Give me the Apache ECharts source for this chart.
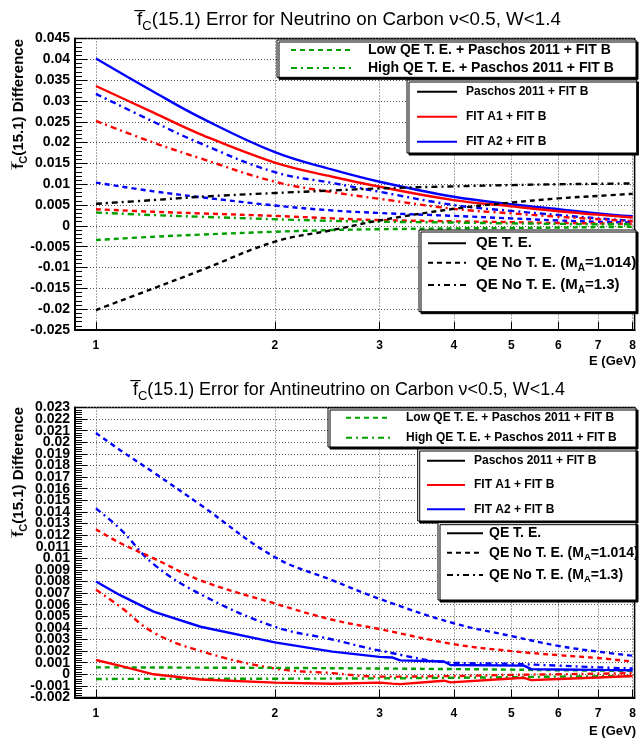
<!DOCTYPE html>
<html>
<head>
<meta charset="utf-8">
<script src="https://cdn.jsdelivr.net/npm/echarts@6/dist/echarts.min.js"></script>
<style>
html, body { margin: 0; padding: 0; background: #fff; }
#chart { width: 639px; height: 739px; }
</style>
</head>
<body>
<div id="chart"></div>
<script>
// ---- axis ticks ----
const xTicks = [1, 2, 3, 4, 5, 6, 7, 8];
const anuYTicks = [-0.002, -0.001, 0, 0.001, 0.002, 0.003, 0.004, 0.005, 0.006, 0.007, 0.008, 0.009,
  0.010, 0.011, 0.012, 0.013, 0.014, 0.015, 0.016, 0.017, 0.018, 0.019, 0.020, 0.021, 0.022, 0.023];

// ---- neutrino on carbon (top panel) ----
const eNu = [1, 1.25, 1.5, 2, 2.5, 3, 4, 5, 6, 7, 8];
const nuA2QE    = [0.0402, 0.0322, 0.0260, 0.0177, 0.0135, 0.0106, 0.0070, 0.0052, 0.0040, 0.0030, 0.0023];
const nuA1QE    = [0.0336, 0.0272, 0.0220, 0.0152, 0.0118, 0.0094, 0.0062, 0.0047, 0.0035, 0.0027, 0.0020];
const nuA2MA13  = [0.0317, 0.0250, 0.0198, 0.0129, 0.0103, 0.0082, 0.0050, 0.0036, 0.0026, 0.0018, 0.0012];
const nuA1MA13  = [0.0252, 0.0200, 0.0162, 0.0106, 0.0081, 0.0065, 0.0041, 0.0030, 0.0022, 0.0016, 0.0011];
const nuA2NoTE  = [0.0104, 0.0083, 0.0069, 0.0049, 0.0037, 0.0031, 0.0024, 0.0018, 0.0013, 0.0010, 0.0008];
const nuPaMA13  = [0.0053, 0.0062, 0.0070, 0.0079, 0.0085, 0.0090, 0.0095, 0.0098, 0.0100, 0.0101, 0.0102];
const nuA1NoTE  = [0.0040, 0.0034, 0.0030, 0.0024, 0.0018, 0.0014, 0.0011, 0.0009, 0.0007, 0.0006, 0.0005];
const nuHighQE  = [0.0032, 0.0026, 0.0022, 0.0016, 0.0012, 0.0010, 0.0008, 0.0006, 0.0005, 0.0004, 0.0004];
const nuLowQE   = [-0.0034, -0.0026, -0.0021, -0.0014, -0.0010, -0.0008, -0.0006, -0.0005, -0.0004, -0.0003, -0.0002];
const nuPaNoTE  = [-0.0202, -0.0150, -0.0107, -0.0038, -0.0010, 0.0013, 0.0041, 0.0056, 0.0066, 0.0072, 0.0077];

// ---- antineutrino on carbon (bottom panel) ----
const eAnu = [1, 1.1, 1.25, 1.5, 2, 2.5, 3, 4, 5, 6, 7, 8];
const anuA2NoTE = [0.0208, 0.0193, 0.0174, 0.0146, 0.0101, 0.0081, 0.0065, 0.0044, 0.0033, 0.00245, 0.00195, 0.0016];
const anuA2MA13 = [0.0143, 0.0125, 0.0095, 0.0069, 0.0041, 0.0030, 0.00205, 0.0010, 0.0009, 0.00075, 0.0006, 0.0005];
const anuA1NoTE = [0.0125, 0.0113, 0.0100, 0.0081, 0.0061, 0.0047, 0.0039, 0.0026, 0.0020, 0.00165, 0.0014, 0.0011];
const anuA1MA13 = [0.0073, 0.0058, 0.0036, 0.0020, 0.0005, 0.0001, -0.0002, -0.00015, -0.00005, 0.0, 0.00005, 0.0001];
const eAnuQE = [1, 1.1, 1.25, 1.5, 2, 2.5, 3, 3.15, 3.25, 3.85, 3.95, 5.25, 5.4, 6, 7, 8];
const anuA2QE = [0.0080, 0.0068, 0.0054, 0.0041, 0.00275, 0.00195, 0.0015, 0.00145, 0.0012, 0.0011, 0.0008, 0.00075, 0.00045, 0.00042, 0.00038, 0.00035];
const anuA1QE = [0.00123, 0.00072, 0.0, -0.00045, -0.00072, -0.00082, -0.00072, -0.0008, -0.00085, -0.00055, -0.0007, -0.0003, -0.0005, -0.0004, -0.00028, -0.00015];
const eAnuGreen = [1, 2, 3, 4, 5, 6, 8];
const anuLowQE  = [0.0006, 0.00055, 0.0005, 0.00045, 0.0004, 0.00035, 0.0003];
const anuHighQE = [-0.0004, -0.00038, -0.00035, -0.0003, -0.00025, -0.0002, -0.00015];

// ---- names ----
const lowName  = 'Low QE T. E. + Paschos 2011 + FIT B';
const highName = 'High QE T. E. + Paschos 2011 + FIT B';
const modelNames = ['Paschos 2011 + FIT B', 'FIT A1 + FIT B', 'FIT A2 + FIT B'];
const qeNames = ['QE T. E.', 'QE No T. E. (MA=1.014)', 'QE No T. E. (MA=1.3)'];

const FONT = "'Liberation Sans', Arial, Helvetica, sans-serif";
const RED = '#ff0000', BLUE = '#0000ff', BLACK = '#000000', GREEN = '#00a000';
const SOLID = 'solid', DASH = [5, 4], DASHDOT = [6, 4, 2, 4];

function line(name, xs, ys, color, dash, g, smooth) {
  return {
    type: 'line', name: name, xAxisIndex: g, yAxisIndex: g,
    data: xs.map((x, i) => [x, ys[i]]),
    symbol: 'none', showSymbol: false,
    smooth: smooth,
    lineStyle: { color: color, width: 2.4, type: dash },
    itemStyle: { color: color },
    emphasis: { disabled: true }, silent: true, z: 2
  };
}
function legendOnly(name, color, dash) {
  return {
    type: 'line', name: name, xAxisIndex: 0, yAxisIndex: 0, data: [],
    symbol: 'none', showSymbol: false,
    lineStyle: { color: color, width: 2.4, type: dash },
    itemStyle: { color: color }
  };
}

function xAxisCfg(g) {
  return {
    type: 'log', logBase: 10, gridIndex: g, min: 0.922, max: 8.06,
    axisLine: { onZero: false, lineStyle: { color: '#000', width: 2 } },
    axisTick: { show: true, inside: true, length: 8, customValues: xTicks, lineStyle: { color: '#000', width: 1 } },
    minorTick: { show: false },
    axisLabel: { customValues: xTicks, color: '#000', fontFamily: FONT, fontWeight: 'bold', fontSize: 12, margin: 10 },
    splitLine: { show: true, lineStyle: { color: '#555', width: 1, type: [1, 2] } }
  };
}
const yLabelStyle = {
  color: '#000', fontFamily: FONT, fontWeight: 'bold', fontSize: 14, margin: 5,
  showMinLabel: true, showMaxLabel: true,
  formatter: v => String(+(+v).toFixed(4))
};
function yAxisCfg(g, min, max, step) {
  return {
    type: 'value', gridIndex: g, min: min, max: max, interval: step,
    axisLine: { show: true, onZero: false, lineStyle: { color: '#000', width: 2 } },
    axisTick: { show: true, inside: true, length: 12, lineStyle: { color: '#000', width: 1 } },
    minorTick: { show: true, splitNumber: 5, length: 7, lineStyle: { color: '#000', width: 1 } },
    minorSplitLine: { show: false },
    axisLabel: Object.assign({}, yLabelStyle),
    splitLine: { show: true, lineStyle: { color: '#555', width: 1, type: [1, 2] } }
  };
}
// label-only axis sharing a grid, used so that closely packed labels are all kept
function yLabelAxis(g, min, max, values) {
  return {
    type: 'value', gridIndex: g, min: min, max: max, position: 'left',
    axisLine: { show: false }, axisTick: { show: false }, splitLine: { show: false },
    axisLabel: Object.assign({ customValues: values }, yLabelStyle)
  };
}

// legend label with a subscript A on M
function subFmt(name) {
  const m = name.match(/^(.*\(M)A(=.*)$/);
  return m ? '{n|' + m[1] + '}{s|A}{n|' + m[2] + '}' : '{n|' + name + '}';
}
function legendCfg(names, left, top, iw, ih, gap, fs, padLeft, rich, subSize) {
  const cfg = {
    orient: 'vertical', left: left, top: top, padding: 0,
    itemWidth: iw, itemHeight: ih, itemGap: gap, selectedMode: false,
    data: names, z: 5,
    itemStyle: { opacity: 0 },
    textStyle: { color: '#000', fontFamily: FONT, fontWeight: 'bold', fontSize: fs, padding: [0, 0, 0, padLeft] }
  };
  if (rich) {
    const lh = Math.round(fs + 5);
    cfg.formatter = subFmt;
    cfg.textStyle.rich = {
      n: { fontFamily: FONT, fontWeight: 'bold', fontSize: fs, lineHeight: lh, color: '#000' },
      s: { fontFamily: FONT, fontWeight: 'bold', fontSize: subSize, lineHeight: subSize, verticalAlign: 'bottom', color: '#000' }
    };
  }
  return cfg;
}

function frame(x, y, w, h) {
  return {
    type: 'rect', z: 4, silent: true,
    shape: { x: x, y: y, width: w, height: h },
    style: { fill: '#fff', stroke: '#000', lineWidth: 1, shadowBlur: 0, shadowColor: '#000', shadowOffsetX: 2, shadowOffsetY: 2 }
  };
}
function titleText(x, y, rest, size) {
  return {
    type: 'text', x: x, y: y, z: 6, silent: true,
    style: {
      text: '{f|f\u0305}{s|C}{t|' + rest + '}',
      align: 'center', verticalAlign: 'middle', textAlign: 'center', textVerticalAlign: 'middle',
      rich: {
        f: { fontFamily: FONT, fontSize: size, lineHeight: size + 8, fill: '#000' },
        s: { fontFamily: FONT, fontSize: 13, lineHeight: 12, verticalAlign: 'bottom', fill: '#000' },
        t: { fontFamily: FONT, fontSize: size, lineHeight: size + 8, fill: '#000' }
      }
    }
  };
}
function yTitle(x, yTop) {
  return {
    type: 'text', x: x, y: yTop, rotation: Math.PI / 2, z: 6, silent: true,
    style: {
      text: '{f|f\u0305}{s|C}{t|(15.1) Difference}',
      align: 'right', verticalAlign: 'middle', textAlign: 'right', textVerticalAlign: 'middle',
      rich: {
        f: { fontFamily: FONT, fontWeight: 'bold', fontSize: 15, lineHeight: 21, fill: '#000' },
        s: { fontFamily: FONT, fontWeight: 'bold', fontSize: 11, lineHeight: 10, verticalAlign: 'bottom', fill: '#000' },
        t: { fontFamily: FONT, fontWeight: 'bold', fontSize: 15, lineHeight: 21, fill: '#000' }
      }
    }
  };
}
function xName(x, y) {
  return {
    type: 'text', x: x, y: y, z: 6, silent: true,
    style: { text: 'E (GeV)', fontFamily: FONT, fontWeight: 'bold', fontSize: 13, fill: '#000',
      align: 'right', verticalAlign: 'middle', textAlign: 'right', textVerticalAlign: 'middle' }
  };
}

const series = [
  // top panel
  line('FIT A2 + FIT B, QE T. E. (nu)', eNu, nuA2QE, BLUE, SOLID, 0, 0.4),
  line('FIT A1 + FIT B, QE T. E. (nu)', eNu, nuA1QE, RED, SOLID, 0, 0.4),
  line('FIT A2 + FIT B, MA=1.3 (nu)', eNu, nuA2MA13, BLUE, DASHDOT, 0, 0.4),
  line('FIT A1 + FIT B, MA=1.3 (nu)', eNu, nuA1MA13, RED, DASHDOT, 0, 0.4),
  line('FIT A2 + FIT B, MA=1.014 (nu)', eNu, nuA2NoTE, BLUE, DASH, 0, 0.4),
  line('Paschos 2011 + FIT B, MA=1.3 (nu)', eNu, nuPaMA13, BLACK, DASHDOT, 0, 0.4),
  line('FIT A1 + FIT B, MA=1.014 (nu)', eNu, nuA1NoTE, RED, DASH, 0, 0.4),
  line(highName, eNu, nuHighQE, GREEN, DASHDOT, 0, 0.4),
  line(lowName, eNu, nuLowQE, GREEN, DASH, 0, 0.4),
  line('Paschos 2011 + FIT B, MA=1.014 (nu)', eNu, nuPaNoTE, BLACK, DASH, 0, 0.4),
  // bottom panel
  line('FIT A2 + FIT B, MA=1.014 (anu)', eAnu, anuA2NoTE, BLUE, DASH, 1, 0.4),
  line('FIT A2 + FIT B, MA=1.3 (anu)', eAnu, anuA2MA13, BLUE, DASHDOT, 1, 0.4),
  line('FIT A1 + FIT B, MA=1.014 (anu)', eAnu, anuA1NoTE, RED, DASH, 1, 0.4),
  line('FIT A1 + FIT B, MA=1.3 (anu)', eAnu, anuA1MA13, RED, DASHDOT, 1, 0.4),
  line(lowName, eAnuGreen, anuLowQE, GREEN, DASH, 1, 0.4),
  line(highName, eAnuGreen, anuHighQE, GREEN, DASHDOT, 1, 0.4),
  line('FIT A2 + FIT B, QE T. E. (anu)', eAnuQE, anuA2QE, BLUE, SOLID, 1, false),
  line('FIT A1 + FIT B, QE T. E. (anu)', eAnuQE, anuA1QE, RED, SOLID, 1, false),
  // legend keys
  legendOnly(modelNames[0], BLACK, SOLID),
  legendOnly(modelNames[1], RED, SOLID),
  legendOnly(modelNames[2], BLUE, SOLID),
  legendOnly(qeNames[0], BLACK, SOLID),
  legendOnly(qeNames[1], BLACK, DASH),
  legendOnly(qeNames[2], BLACK, DASHDOT)
];

// bottom panel: its axis draws ticks and grid lines, labels alternate between two label axes
const anuAxis = yAxisCfg(1, -0.002, 0.023, 0.001);
anuAxis.axisLabel = { show: false };

const option = {
  animation: false,
  backgroundColor: '#fff',
  grid: [
    { left: 75, right: 2, top: 38.5, bottom: 409, show: true, borderColor: '#000', borderWidth: 1.5, backgroundColor: 'transparent' },
    { left: 75, right: 2, top: 407.5, bottom: 41.5, show: true, borderColor: '#000', borderWidth: 1.5, backgroundColor: 'transparent' }
  ],
  xAxis: [xAxisCfg(0), xAxisCfg(1)],
  yAxis: [
    yAxisCfg(0, -0.025, 0.045, 0.005),
    anuAxis,
    yLabelAxis(1, -0.002, 0.023, anuYTicks.filter((v, i) => i % 2 === 0)),
    yLabelAxis(1, -0.002, 0.023, anuYTicks.filter((v, i) => i % 2 === 1))
  ],
  legend: [
    legendCfg([lowName, highName], 290, 43, 63, 14, 4, 14, 9, false),
    legendCfg(modelNames, 416, 85.7, 40, 12, 13, 12, 4, false),
    legendCfg(qeNames, 427, 235.7, 38, 15, 4.6, 15, 5, true, 10),
    legendCfg([lowName, highName], 345, 411.7, 45, 12, 8, 12, 10, false),
    legendCfg(modelNames, 426, 454.7, 38, 12, 12.3, 12, 4, false),
    legendCfg(qeNames, 446, 526.2, 36, 14, 5.6, 14, 1, true, 9.5)
  ],
  graphic: [
    frame(277, 40, 359, 37.3),
    frame(407, 80, 229.7, 73),
    frame(419, 230, 217, 81.7),
    frame(328, 408, 308, 39),
    frame(417.7, 449, 218.3, 72),
    frame(438, 522.7, 198, 77.3),
    titleText(349, 20, '(15.1) Error for Neutrino on Carbon \u03bd<0.5, W<1.4', 18.8),
    titleText(349, 390, '(15.1) Error for Antineutrino on Carbon \u03bd<0.5, W<1.4', 17.9),
    yTitle(19, 39),
    yTitle(19, 407),
    xName(636, 361.7),
    xName(636, 731)
  ],
  series: series
};

const chart = echarts.init(document.getElementById('chart'), null, { renderer: 'canvas' });
chart.setOption(option);
</script>
</body>
</html>
